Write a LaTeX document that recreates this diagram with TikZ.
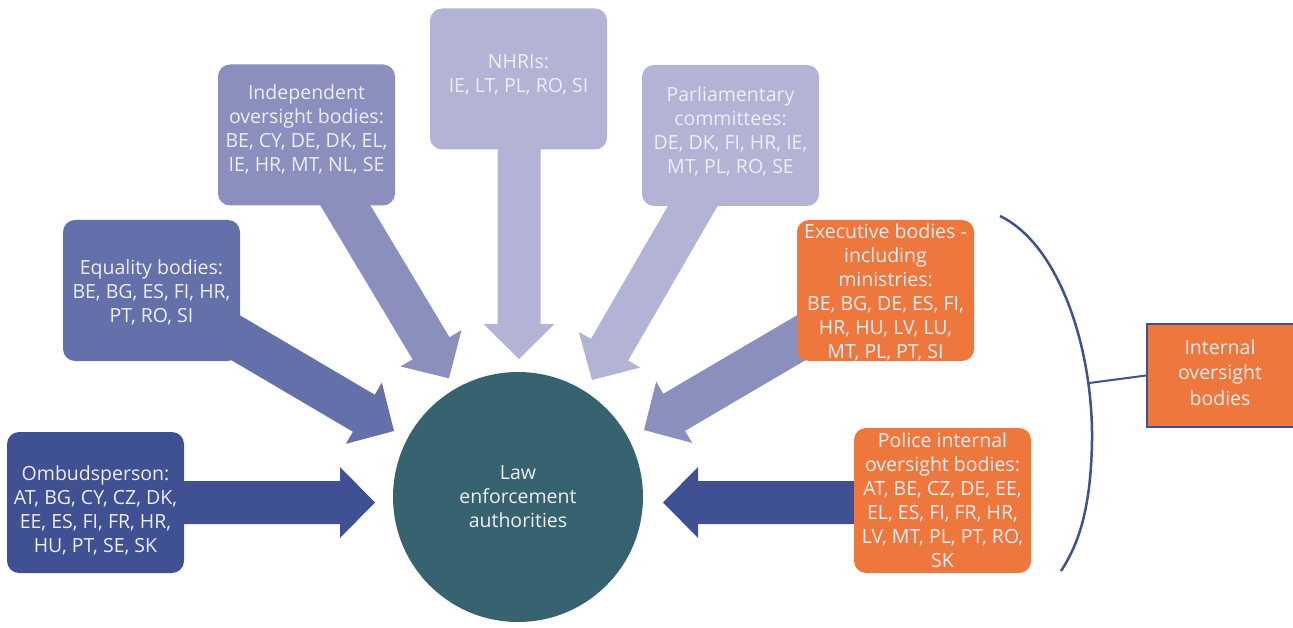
\documentclass[tikz,border=0pt]{standalone}
\usepackage{fontspec}
\setmainfont{Open Sans}
\usetikzlibrary{calc}
\definecolor{cOmb}{HTML}{3F5093}
\definecolor{cEq}{HTML}{6470AA}
\definecolor{cInd}{HTML}{8A8FBE}
\definecolor{cLight}{HTML}{B2B3D5}
\definecolor{cOrange}{HTML}{ED773C}
\definecolor{cCircle}{HTML}{37626F}
\definecolor{cText}{HTML}{EEEEF4}
\tikzset{
  box/.style={rounded corners=12pt, minimum width=177pt, minimum height=141pt, inner sep=0pt, draw=none},
  txt/.style={text=cText, align=center, font=\fontsize{19.5}{24}\selectfont, inner sep=0pt},
  bracketline/.style={draw=cOmb, line width=2.5pt},
}
\newcommand{\fatarrow}[3]{%
  \coordinate (fa-b) at ($(#3)!35pt!(#2)$);
  \fill[#1] ($(#2)!21.5pt!90:(#3)$) -- ($(fa-b)!21.5pt!90:(#3)$) -- ($(fa-b)!35.5pt!90:(#3)$) -- (#3)
    -- ($(fa-b)!35.5pt!-90:(#3)$) -- ($(fa-b)!21.5pt!-90:(#3)$) -- ($(#2)!21.5pt!-90:(#3)$) -- cycle;}
\begin{document}
\begin{tikzpicture}[x=1pt,y=-1pt]
\useasboundingbox (0,0) rectangle (1293,628);
% arrow anchors
\coordinate (omb-s) at (150,502.5);   \coordinate (omb-t) at (375,502.5);
\coordinate (pol-s) at (950,502.5);   \coordinate (pol-t) at (663,502.5);
\coordinate (nhri-s) at (519,100);    \coordinate (nhri-t) at (519,359);
\coordinate (eq-s) at (195.8,314.3);  \coordinate (eq-t) at (394,431);
\coordinate (ind-s) at (331,181.4);   \coordinate (ind-t) at (449,378.3);
\coordinate (parl-s) at (707,181.4);  \coordinate (parl-t) at (592,380);
\coordinate (exec-s) at (841.8,313.9);\coordinate (exec-t) at (644,430);
% arrows
\fatarrow{cOmb}{omb-s}{omb-t}
\fatarrow{cOmb}{pol-s}{pol-t}
\fatarrow{cLight}{nhri-s}{nhri-t}
\fatarrow{cEq}{eq-s}{eq-t}
\fatarrow{cInd}{ind-s}{ind-t}
\fatarrow{cLight}{parl-s}{parl-t}
\fatarrow{cInd}{exec-s}{exec-t}
% boxes
\node[box, fill=cOmb] (omb) at (95.5,502.5) {};
\node[box, fill=cEq] (eq) at (151.5,290.5) {};
\node[box, fill=cInd] (ind) at (306.5,135) {};
\node[box, fill=cLight] (nhri) at (518.5,79) {};
\node[box, fill=cLight] (parl) at (730.5,135.5) {};
\node[box, fill=cOrange] (exec) at (885.5,290.5) {};
\node[box, fill=cOrange, minimum height=145pt] (pol) at (942.5,500.5) {};
\node[circle, fill=cCircle, minimum size=250pt, inner sep=0pt] (lea) at (518,497) {};
% texts
\node[txt] (omb-l) at (95.5,510) {Ombudsperson:\\AT, BG, CY, CZ, DK,\\EE, ES, FI, FR, HR,\\HU, PT, SE, SK};
\node[txt] (eq-l) at (151.5,292.5) {Equality bodies:\\BE, BG, ES, FI, HR,\\PT, RO, SI};
\node[txt] (ind-l) at (306.5,129) {Independent\\oversight bodies:\\BE, CY, DE, DK, EL,\\IE, HR, MT, NL, SE};
\node[txt] (nhri-l) at (518.5,75) {NHRIs:\\IE, LT, PL, RO, SI};
\node[txt] (parl-l) at (730.5,131) {Parliamentary\\committees:\\DE, DK, FI, HR, IE,\\MT, PL, RO, SE};
\node[txt] (exec-l) at (885.5,292) {Executive bodies -\\including\\ministries:\\BE, BG, DE, ES, FI,\\HR, HU, LV, LU,\\MT, PL, PT, SI};
\node[txt] (pol-l) at (942.5,500) {Police internal\\oversight bodies:\\AT, BE, CZ, DE, EE,\\EL, ES, FI, FR, HR,\\LV, MT, PL, PT, RO,\\SK};
\node[txt] (lea-l) at (lea) {Law\\enforcement\\authorities};
% bracket and internal box
\coordinate (brk-top) at (1000,216);
\coordinate (brk-mid) at (1092,440);
\coordinate (brk-bot) at (1061,571);
\coordinate (brk) at (1089.3,383);
\draw[bracketline] (brk-top) .. controls (1060,245) and (1093,350) .. (brk-mid)
  .. controls (1091,510) and (1078,545) .. (brk-bot);
\node[draw=cOmb, line width=2pt, fill=cOrange, minimum width=148pt, minimum height=103pt, inner sep=0pt] (int) at (1221,375.5) {};
\node[txt, font=\fontsize{19.5}{25.5}\selectfont] (int-l) at (1220,372.5) {Internal\\oversight\\bodies};
\draw[bracketline, line width=2pt] (brk) -- (int.west);
\end{tikzpicture}
\end{document}
